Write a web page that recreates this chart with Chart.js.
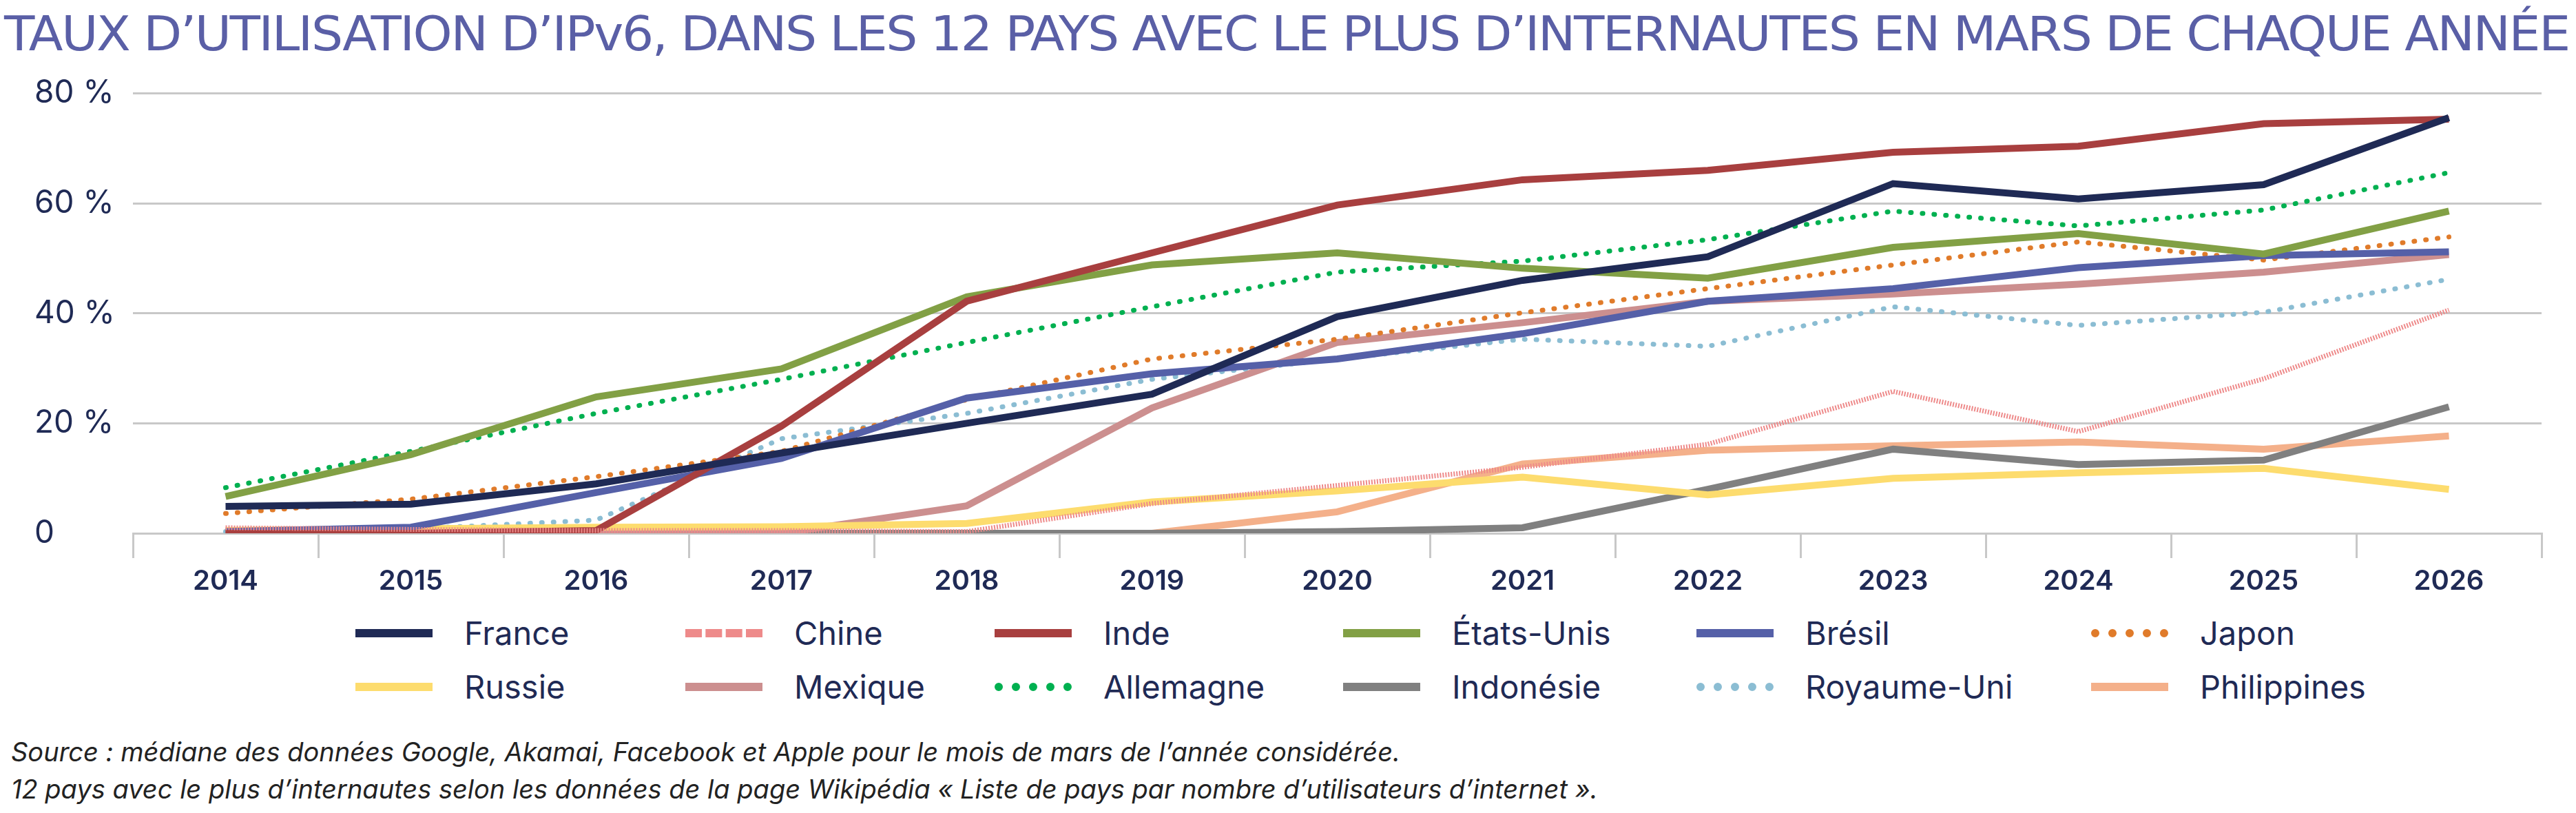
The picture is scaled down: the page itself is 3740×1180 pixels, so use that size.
<!DOCTYPE html>
<html><head><meta charset="utf-8">
<script src="https://cdn.jsdelivr.net/npm/chart.js@4"></script>
<style>
body{margin:0;width:3740px;height:1180px;background:#fff;font-family:Inter,"Noto Sans",sans-serif;overflow:hidden;position:relative}
#title{position:absolute;left:6px;top:8px;font-family:"DejaVu Sans Condensed","DejaVu Sans";font-size:70px;color:#5a5fa6;white-space:nowrap;transform-origin:0 0;letter-spacing:-2px}
#wrap{position:absolute;left:0;top:88px;width:3740px;height:790px}
#legend{position:absolute;left:0;top:880px;width:3740px}
.it{position:absolute;display:flex;align-items:center;font-size:47px;color:#1f2a55}
.sw{width:112px;height:0;margin-right:46px;border-top-width:12px;border-top-style:solid}
#foot{position:absolute;left:16px;top:1064px;font-size:38px;font-style:italic;color:#222;line-height:54px}
</style></head><body>
<div id="title">TAUX D’UTILISATION D’IPv6, DANS LES 12 PAYS AVEC LE PLUS D’INTERNAUTES EN MARS DE CHAQUE ANNÉE</div>
<div id="wrap"><canvas id="c"></canvas></div>
<div id="legend"></div>
<div id="foot">Source : médiane des données Google, Akamai, Facebook et Apple pour le mois de mars de l’année considérée.<br>12 pays avec le plus d’internautes selon les données de la page Wikipédia « Liste de pays par nombre d’utilisateurs d’internet ».</div>
<script>
const years = ['2014','2015','2016','2017','2018','2019','2020','2021','2022','2023','2024','2025','2026'];
const yTicks = [0, 20, 40, 60, 80];
const france      = [4.9, 5.3, 9, 14.6, 20, 25.3, 39.4, 46, 50.3, 63.6, 60.8, 63.4, 75.6];
const chine       = [1, 0.7, 0.5, 0.5, 0.3, 5.4, 8.7, 12, 16.2, 25.8, 18.5, 28.1, 40.6];
const inde        = [0, 0, 0.5, 19.5, 42.2, 51, 59.7, 64.3, 66, 69.3, 70.4, 74.5, 75.3];
const etatsUnis   = [6.7, 14.3, 24.8, 29.9, 43, 48.8, 51, 48.2, 46.4, 52, 54.5, 50.8, 58.6];
const bresil      = [0.3, 1.1, 7.4, 13.6, 24.6, 29, 31.7, 36.3, 42.2, 44.5, 48.3, 50.5, 51.2];
const japon       = [3.6, 6.2, 10.3, 14.9, 24.3, 31.7, 35.3, 40.1, 44.5, 48.8, 53, 49.7, 53.9];
const russie      = [0.5, 0.8, 1.1, 1.2, 1.8, 5.7, 7.7, 10.2, 7, 10, 11, 11.8, 8];
const mexique     = [0, 0, 0, 0, 5, 22.8, 34.7, 38.3, 42.2, 43.5, 45.3, 47.5, 50.7];
const allemagne   = [8.3, 14.9, 21.8, 28, 34.7, 41.2, 47.5, 49.5, 53.4, 58.6, 55.9, 58.8, 65.6];
const indonesie   = [0, 0, 0, 0, 0, 0, 0.3, 1, 8, 15.3, 12.5, 13.3, 23];
const royaumeUni  = [0.3, 0.8, 2.4, 17.2, 21.8, 28, 31.7, 35.3, 34, 41.2, 37.8, 40.2, 46.2];
const philippines = [0, 0, 0, 0, 0, 0, 3.9, 12.6, 15.1, 15.9, 16.6, 15.3, 17.7];

const series = [
  ['France', france, '#1f2a55', 'solid'],
  ['Chine', chine, '#ee8a8a', 'hatch'],
  ['Inde', inde, '#a83f3f', 'solid'],
  ['États-Unis', etatsUnis, '#82a045', 'solid'],
  ['Brésil', bresil, '#5560a8', 'solid'],
  ['Japon', japon, '#e07b2a', 'dot'],
  ['Russie', russie, '#fddc6e', 'solid'],
  ['Mexique', mexique, '#cc8f8f', 'solid'],
  ['Allemagne', allemagne, '#00b050', 'dot'],
  ['Indonésie', indonesie, '#808080', 'solid'],
  ['Royaume-Uni', royaumeUni, '#8bbdd3', 'dot'],
  ['Philippines', philippines, '#f4b08a', 'solid'],
];

// titre ajusté à la largeur
const t = document.getElementById('title');
t.style.transform = 'scaleX(' + (3724 / t.scrollWidth) + ')';

// légende
const cols = [516, 995, 1444, 1950, 2463, 3036];
const leg = document.getElementById('legend');
series.forEach((s, i) => {
  const d = document.createElement('div');
  d.className = 'it';
  d.style.left = cols[i % 6] + 'px';
  d.style.top = (i < 6 ? 10 : 88) + 'px';
  const style = s[3] === 'dot' ? 'dotted' : s[3] === 'hatch' ? 'dashed' : 'solid';
  d.innerHTML = '<span class="sw" style="border-top-color:' + s[2] + ';border-top-style:' + style + '"></span>' + s[0];
  leg.appendChild(d);
});

Chart.defaults.font.family = 'Inter, "Noto Sans", sans-serif';
Chart.defaults.color = '#1f2a55';
new Chart(document.getElementById('c').getContext('2d'), {
  type: 'line',
  data: { labels: years,
    datasets: series.map(s => ({
      label: s[0], data: s[1], borderColor: s[2], fill: false, pointRadius: 0, tension: 0,
      borderWidth: s[3] === 'solid' ? 10 : 7,
      borderDash: s[3] === 'dot' ? [1, 16] : s[3] === 'hatch' ? [2, 2] : [],
      borderCapStyle: s[3] === 'dot' ? 'round' : 'butt'
    })) },
  options: { responsive: true, maintainAspectRatio: false, animation: false,
    layout: { padding: { left: 50, right: 50, top: 16, bottom: 0 } },
    plugins: { legend: { display: false }, tooltip: { enabled: false } },
    scales: {
      x: { offset: true,
           grid: { offset: true, drawOnChartArea: false, color: '#c8c8c8', lineWidth: 3, tickLength: 36 },
           border: { color: '#c8c8c8', width: 3 },
           ticks: { font: { size: 40, weight: '600' }, padding: 10 } },
      y: { min: 0, max: 80,
           afterBuildTicks: a => { a.ticks = yTicks.map(v => ({ value: v })); },
           afterFit: a => { a.width = 143; },
           grid: { color: '#c8c8c8', lineWidth: 3, drawTicks: false },
           border: { display: false },
           ticks: { font: { size: 46 }, crossAlign: 'far', padding: 20, callback: v => v === 0 ? '0' : v + ' %' } }
    } }
});
</script>
</body></html>
